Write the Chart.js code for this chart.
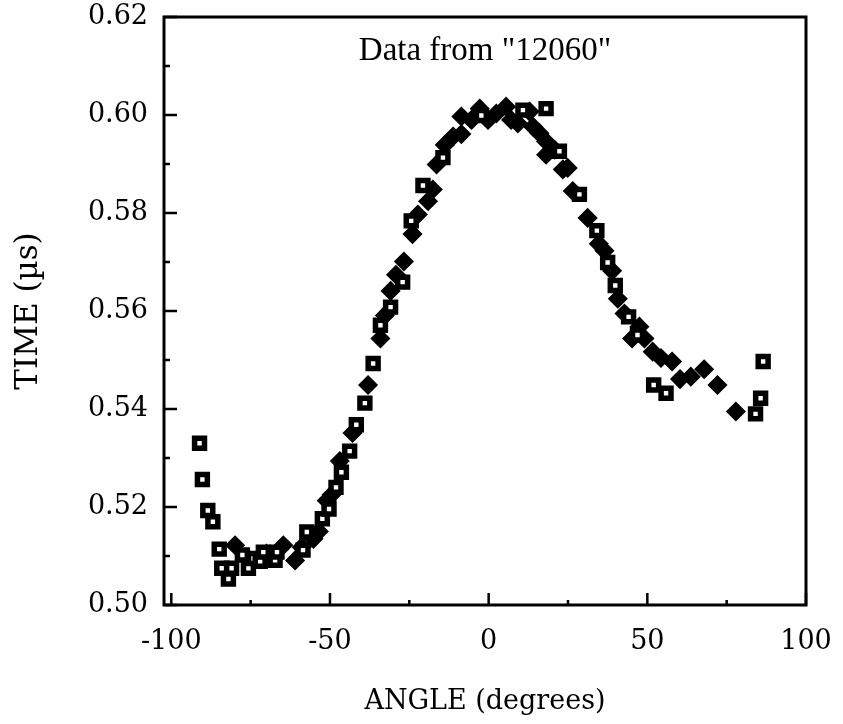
<!DOCTYPE html>
<html lang="en">
<head>
    <meta charset="UTF-8">
    <title>Data from "12060"</title>
    <script src="https://cdn.jsdelivr.net/npm/chart.js"></script>
    <style>
        body {
            margin: 0;
            background-color: #ffffff;
        }
        #wrap {
            width: 843px;
            height: 724px;
        }
    </style>
</head>
<body>
    <div id="wrap"><canvas id="timeChart"></canvas></div>

    <script>
        // Open squares (black frame, white centre)
        const squareAngles = [-91.1, -90.2, -88.5, -86.9, -84.9, -84.1, -82.0, -81.0, -77.6, -75.7,
            -74.1, -72.0, -71.0, -67.3, -66.7, -58.5, -57.3, -52.4, -50.3, -48.1,
            -46.4, -43.8, -41.7, -39.0, -36.4, -34.1, -30.9, -27.1, -24.4, -20.7,
            -14.4, -2.3, 10.8, 18.1, 22.3, 28.6, 34.1, 37.5, 39.9, 44.1,
            46.9, 52.0, 55.9, 84.1, 85.7, 86.5];
        const squareTimes = [0.5330, 0.5256, 0.5193, 0.5170, 0.5114, 0.5075, 0.5053, 0.5075, 0.5102, 0.5075,
            0.5095, 0.5089, 0.5108, 0.5091, 0.5108, 0.5112, 0.5149, 0.5176, 0.5196, 0.5240,
            0.5271, 0.5314, 0.5368, 0.5412, 0.5493, 0.5571, 0.5608, 0.5659, 0.5784, 0.5856,
            0.5913, 0.5999, 0.6010, 0.6013, 0.5926, 0.5838, 0.5764, 0.5699, 0.5652, 0.5588,
            0.5551, 0.5449, 0.5432, 0.5390, 0.5422, 0.5497];

        // Filled diamonds
        const diamondAngles = [-79.9, -70.0, -64.7, -61.0, -58.9, -55.2, -53.5, -51.0, -49.5, -46.9,
            -42.9, -38.0, -34.1, -32.7, -30.9, -29.2, -26.7, -24.0, -22.3, -19.1,
            -17.6, -16.4, -13.8, -11.2, -8.6, -8.6, -5.4, -2.8, -0.2, 2.4,
            5.5, 7.1, 9.2, 12.9, 14.0, 16.0, 18.1, 18.1, 20.8, 23.4,
            24.9, 26.5, 31.2, 34.7, 36.5, 38.9, 40.7, 42.8, 45.2, 47.5,
            49.1, 51.7, 54.3, 57.8, 60.3, 63.7, 67.9, 72.1, 77.9];
        const diamondTimes = [0.5122, 0.5105, 0.5122, 0.5091, 0.5118, 0.5135, 0.5150, 0.5213, 0.5225, 0.5294,
            0.5351, 0.5449, 0.5544, 0.5591, 0.5641, 0.5674, 0.5701, 0.5757, 0.5797, 0.5824,
            0.5848, 0.5899, 0.5939, 0.5956, 0.5961, 0.5997, 0.5990, 0.6013, 0.5990, 0.6003,
            0.6017, 0.5990, 0.5983, 0.6007, 0.5976, 0.5963, 0.5946, 0.5919, 0.5929, 0.5889,
            0.5892, 0.5845, 0.5790, 0.5737, 0.5723, 0.5682, 0.5625, 0.5595, 0.5544, 0.5568,
            0.5544, 0.5517, 0.5504, 0.5497, 0.5461, 0.5466, 0.5481, 0.5449, 0.5395];

        // Axis ticks
        const xTicks = [-100, -75, -50, -25, 0, 25, 50, 75, 100];
        const xLabelTicks = [-100, -50, 0, 50, 100];
        const yMin = 0.50;
        const yMax = 0.62;

        const serif = '"DejaVu Serif", serif';

        function toPoints(xs, ys) {
            return xs.map((x, i) => ({ x: x, y: ys[i] }));
        }

        // Box around the plot and inward-pointing tick marks
        const framePlugin = {
            id: 'frame',
            afterDraw(chart) {
                const ctx = chart.ctx;
                const area = chart.chartArea;
                const xs = chart.scales.x;
                const ys = chart.scales.y;
                ctx.save();
                ctx.strokeStyle = '#000';
                ctx.lineWidth = 3;
                ctx.strokeRect(area.left, area.top, area.right - area.left, area.bottom - area.top);
                ctx.lineWidth = 2.5;
                ctx.beginPath();
                xs.ticks.forEach(t => {
                    const px = xs.getPixelForValue(t.value);
                    const len = xLabelTicks.includes(t.value) ? 12 : 5;
                    ctx.moveTo(px, area.bottom);
                    ctx.lineTo(px, area.bottom - len);
                });
                ys.ticks.forEach(t => {
                    const py = ys.getPixelForValue(t.value);
                    const len = Math.round(t.value * 100) % 2 === 0 ? 13 : 6;
                    ctx.moveTo(area.left, py);
                    ctx.lineTo(area.left + len, py);
                });
                ctx.stroke();

                // Label inside the plot
                ctx.fillStyle = '#000';
                ctx.font = '33px "Liberation Serif", serif';
                ctx.textAlign = 'center';
                ctx.textBaseline = 'middle';
                ctx.fillText('Data from "12060"', (area.left + area.right) / 2, area.top + 34);
                ctx.restore();
            }
        };

        const ctx = document.getElementById('timeChart').getContext('2d');
        const timeChart = new Chart(ctx, {
            type: 'scatter',
            data: {
                datasets: [
                    {
                        label: 'squares',
                        data: toPoints(squareAngles, squareTimes),
                        pointStyle: 'rect',
                        pointRadius: 7,
                        pointBackgroundColor: '#ffffff',
                        pointBorderColor: '#000000',
                        pointBorderWidth: 5.5
                    },
                    {
                        label: 'diamonds',
                        data: toPoints(diamondAngles, diamondTimes),
                        pointStyle: 'rectRot',
                        pointRadius: 9,
                        pointBackgroundColor: '#000000',
                        pointBorderColor: '#000000',
                        pointBorderWidth: 1.5
                    }
                ]
            },
            options: {
                responsive: true,
                maintainAspectRatio: false,
                animation: false,
                layout: {
                    padding: { top: 17, right: 37, left: 0, bottom: 0 }
                },
                plugins: {
                    legend: { display: false },
                    tooltip: { enabled: false }
                },
                scales: {
                    x: {
                        type: 'linear',
                        min: -102.3,
                        max: 100,
                        afterBuildTicks: scale => {
                            scale.ticks = xTicks.map(v => ({ value: v }));
                        },
                        afterFit: scale => {
                            scale.height = 119;
                            scale.paddingLeft = 0;
                            scale.paddingRight = 0;
                        },
                        grid: { display: false, drawTicks: false },
                        border: { display: false },
                        ticks: {
                            autoSkip: false,
                            maxRotation: 0,
                            padding: 21,
                            color: '#000',
                            font: { family: serif, size: 27 },
                            callback: v => xLabelTicks.includes(v) ? String(v) : ''
                        },
                        title: {
                            display: true,
                            text: 'ANGLE (degrees)',
                            color: '#000',
                            font: { family: serif, size: 27 },
                            padding: { top: 0, bottom: 6 }
                        }
                    },
                    y: {
                        type: 'linear',
                        min: yMin,
                        max: yMax,
                        afterFit: scale => {
                            scale.width = 164;
                            scale.paddingTop = 0;
                            scale.paddingBottom = 0;
                        },
                        grid: { display: false, drawTicks: false },
                        border: { display: false },
                        ticks: {
                            stepSize: 0.01,
                            autoSkip: false,
                            padding: 16,
                            color: '#000',
                            font: { family: serif, size: 27 },
                            callback: v => Math.round(v * 100) % 2 === 0 ? v.toFixed(2) : ''
                        },
                        title: {
                            display: true,
                            text: 'TIME (\u00b5s)',
                            color: '#000',
                            font: { family: serif, size: 31 },
                            padding: { top: 10, bottom: 0 }
                        }
                    }
                }
            },
            plugins: [framePlugin]
        });
    </script>
</body>
</html>
